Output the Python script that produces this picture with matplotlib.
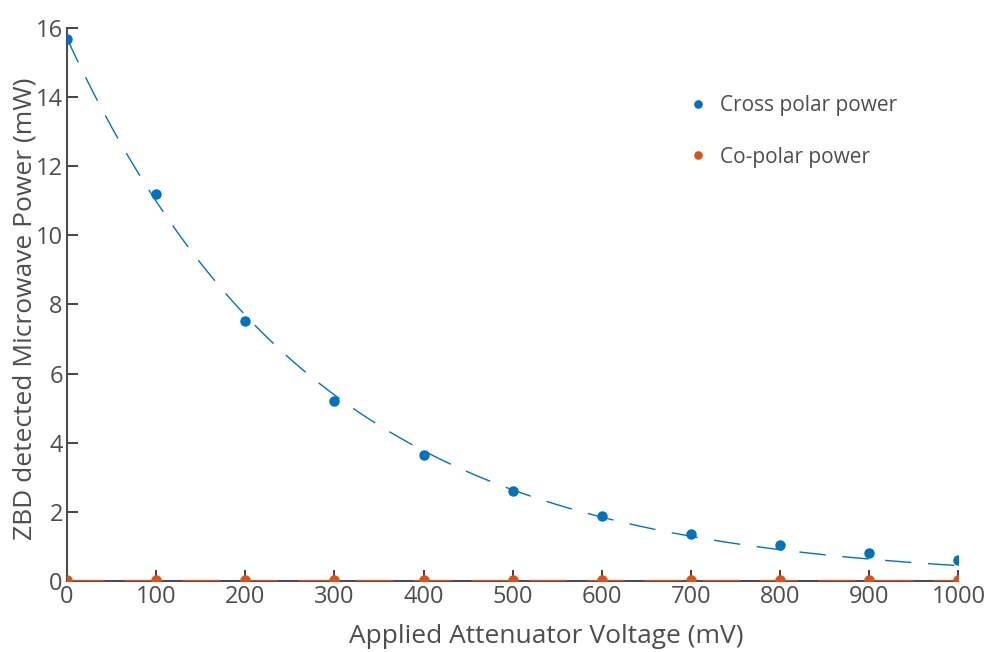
import numpy as np
import matplotlib.pyplot as plt

# data
voltage = [0, 100, 200, 300, 400, 500, 600, 700, 800, 900, 1000]
cross_polar = [15.68, 11.2, 7.52, 5.21, 3.65, 2.6, 1.88, 1.36, 1.04, 0.81, 0.61]
co_polar = [0.03, 0.02, 0.02, 0.02, 0.02, 0.02, 0.02, 0.02, 0.02, 0.02, 0.02]

blue = '#0072bd'
orange = '#d95319'
grey = '#4d4d4d'

plt.rcParams['font.family'] = ['Open Sans', 'DejaVu Sans']

fig = plt.figure(figsize=(9.85, 6.52), dpi=100)
ax = fig.add_axes([0.068, 0.109, 0.905, 0.848])

# exponential fit of the cross polar data (log fit weighted like a least squares fit)
xv = np.array(voltage, dtype=float)
yv = np.array(cross_polar)
p = np.polyfit(xv, np.log(yv), 1, w=yv)
xf = np.linspace(0, 1000, 300)
ax.plot(xf, np.exp(np.polyval(p, xf)), color=blue, lw=1.0, dashes=(19, 12))
# co-polar fit sits on zero
ax.plot(xv, np.zeros_like(xv), color=orange, lw=1.6, dashes=(17, 9), zorder=3)

ax.plot(voltage, cross_polar, 'o', color=blue, markersize=6.5, label='Cross polar power', zorder=4)
ax.plot(voltage, co_polar, 'o', color=orange, markersize=6.5, label='Co-polar power', zorder=4)

ax.set_xlim(0, 1000)
ax.set_ylim(0, 16)
ax.set_xticks(range(0, 1001, 100))
ax.set_yticks(range(0, 17, 2))
for s in ['top', 'right']:
	ax.spines[s].set_visible(False)
for s in ['left', 'bottom']:
	ax.spines[s].set_color(grey)
	ax.spines[s].set_linewidth(1.5)
ax.tick_params(direction='in', length=8, width=1.2, color='#222222', labelsize=17, labelcolor=grey, pad=3)

ax.set_xlabel('Applied Attenuator Voltage (mV)', fontsize=19, color=grey)
ax.set_ylabel('ZBD detected Microwave Power (mW)', fontsize=19, color=grey)
ax.xaxis.set_label_coords(0.5376, -0.078)
ax.yaxis.set_label_coords(-0.033, 0.492)

leg = ax.legend(loc='upper left', bbox_to_anchor=(0.673, 0.912), frameon=False, fontsize=15,
	markerscale=0.8, handlelength=1.2, handletextpad=0.45, labelspacing=1.45)
for t in leg.get_texts():
	t.set_color(grey)

fig.savefig('out.png', dpi=100)
